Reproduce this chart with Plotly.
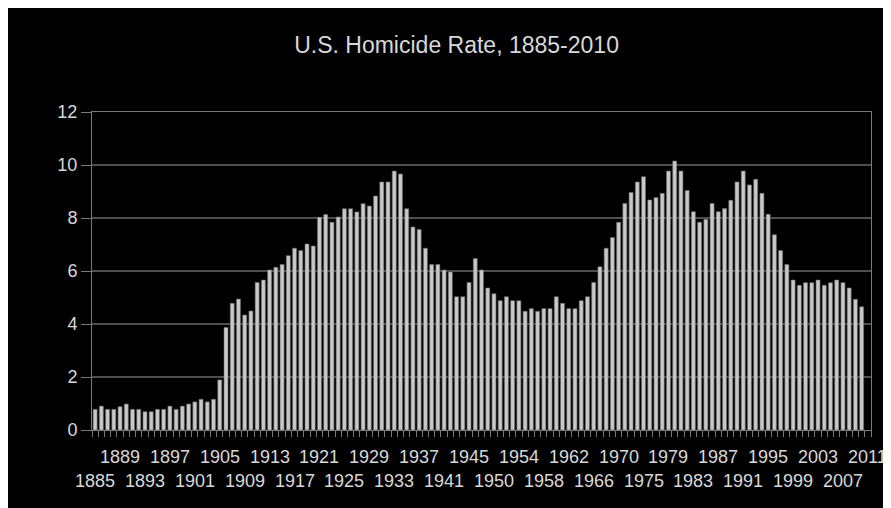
import plotly.graph_objects as go

# Category years (two years are absent from the source sheet's category list)
years = [str(y) for y in list(range(1885, 1946)) + list(range(1947, 1971)) + list(range(1972, 2012))]

# Homicide rate per 100,000; last category has no bar
rates = [
    0.78, 0.90, 0.78, 0.78, 0.88, 0.98, 0.78, 0.78, 0.69, 0.69,
    0.78, 0.78, 0.90, 0.78, 0.90, 0.98, 1.06, 1.16, 1.06, 1.16,
    1.89, 3.87, 4.78, 4.94, 4.34, 4.49, 5.57, 5.66, 6.04, 6.14,
    6.25, 6.58, 6.86, 6.77, 7.02, 6.94, 8.03, 8.13, 7.84, 8.04,
    8.35, 8.35, 8.23, 8.54, 8.45, 8.83, 9.36, 9.36, 9.77, 9.66,
    8.35, 7.66, 7.57, 6.86, 6.25, 6.25, 6.04, 5.96, 5.03, 5.03,
    5.57, 6.47, 6.04, 5.36, 5.14, 4.88, 5.03, 4.88, 4.88, 4.48,
    4.58, 4.48, 4.58, 4.58, 5.03, 4.78, 4.58, 4.58, 4.88, 5.03,
    5.57, 6.16, 6.86, 7.26, 7.84, 8.55, 8.96, 9.36, 9.56, 8.68,
    8.77, 8.93, 9.77, 10.15, 9.77, 9.04, 8.24, 7.84, 7.95, 8.55,
    8.24, 8.36, 8.67, 9.36, 9.77, 9.25, 9.46, 8.93, 8.14, 7.37,
    6.77, 6.25, 5.66, 5.46, 5.56, 5.56, 5.66, 5.46, 5.56, 5.66,
    5.56, 5.36, 4.93, 4.65, None,
]

# Axis labels shown every 4th category, alternating between two rows
x_labels = ["1885", "1889", "1893", "1897", "1901", "1905", "1909", "1913",
            "1917", "1921", "1925", "1929", "1933", "1937", "1941", "1945",
            "1950", "1954", "1958", "1962", "1966", "1970", "1975", "1979",
            "1983", "1987", "1991", "1995", "1999", "2003", "2007", "2011"]
y_ticks = [0, 2, 4, 6, 8, 10, 12]

txt = "#d8d8d8"
grid = "#4e4e4e"
axis_c = "#7a7a7a"
font_family = "Liberation Sans, Arial, sans-serif"

idx = list(range(len(years)))

fig = go.Figure()
fig.add_trace(go.Bar(
    x=idx, y=rates,
    customdata=years,
    hovertemplate="%{customdata}: %{y}<extra></extra>",
    marker=dict(color="#c8c8c8", line=dict(color="#6a6a6a", width=0.6)),
))

annotations = []
for i, lab in enumerate(x_labels):
    pos = years.index(lab)
    annotations.append(dict(
        x=pos, xref="x", y=(-0.085 if i % 2 == 1 else -0.160), yref="paper",
        text=lab, showarrow=False, xanchor="center", yanchor="middle",
        font=dict(family=font_family, size=18, color=txt),
    ))

# Page body margin (8px) provides the thin white frame at top/left.
fig.update_layout(
    width=883, height=500,
    margin=dict(l=84, r=20, t=104, b=78),
    paper_bgcolor="black", plot_bgcolor="black",
    bargap=0.36,
    showlegend=False,
    title=dict(text="U.S. Homicide Rate, 1885-2010", x=0.508, xanchor="center",
               y=0.926, yanchor="middle",
               font=dict(family=font_family, size=23, color=txt)),
    font=dict(family=font_family, color=txt),
    annotations=annotations,
)
fig.update_xaxes(
    range=[-0.5, len(years) - 0.5],
    showticklabels=False, ticks="",
    showgrid=False, zeroline=False,
    showline=True, linecolor=axis_c, linewidth=1, mirror=True,
    minor=dict(ticks="outside", tick0=0.5, dtick=1, ticklen=6,
               tickcolor=axis_c, tickwidth=1, showgrid=False),
)
fig.update_yaxes(
    range=[0, 12], tickvals=y_ticks,
    ticks="outside", ticklen=10, tickcolor=axis_c, tickwidth=1,
    tickfont=dict(family=font_family, size=18, color=txt),
    showgrid=True, gridcolor=grid, gridwidth=1.5,
    zeroline=False,
    showline=True, linecolor=axis_c, linewidth=1, mirror=True,
)

fig.write_html("out.html")
